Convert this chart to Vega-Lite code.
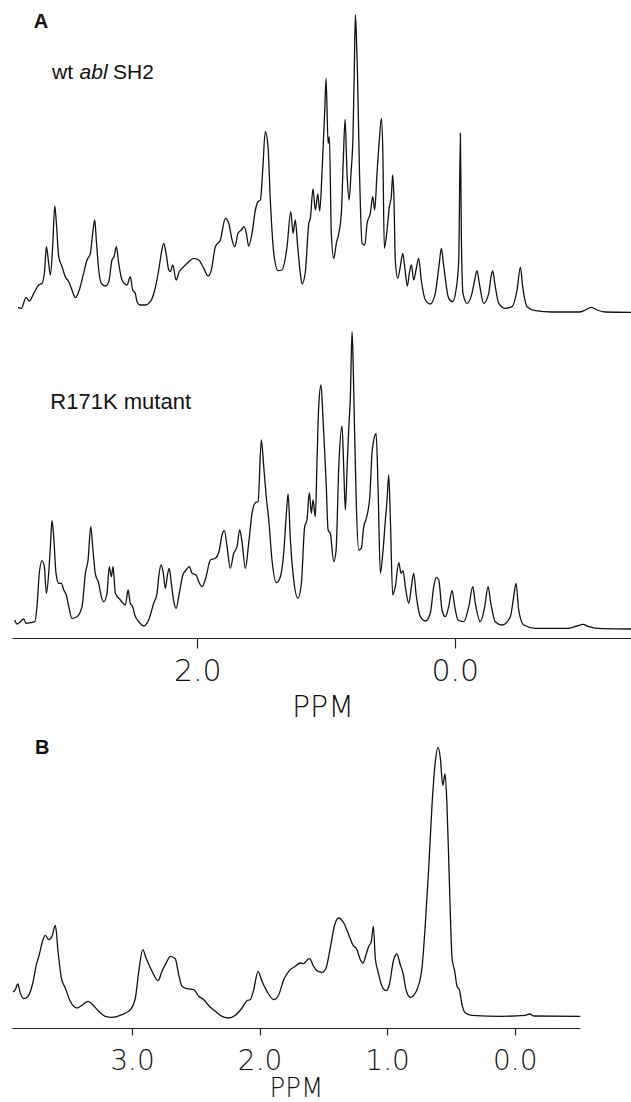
{
  "$schema": "https://vega.github.io/schema/vega-lite/v6.json",
  "padding": {"top": 10, "left": 10, "right": 0, "bottom": 0},
  "background": "white",
  "config": {"view": {"stroke": null}},
  "datasets": {
    "wt": [
      {"ppm":3.393,"int":4.7},{"ppm":3.368,"int":3.7},{"ppm":3.331,"int":14.3},{"ppm":3.305,"int":11},{"ppm":3.271,"int":18.7},{"ppm":3.232,"int":27},{"ppm":3.207,"int":28.7},{"ppm":3.186,"int":42},{"ppm":3.173,"int":65.3},{"ppm":3.155,"int":48.7},{"ppm":3.142,"int":37},{"ppm":3.124,"int":65.3},{"ppm":3.108,"int":106},{"ppm":3.096,"int":90.3},{"ppm":3.077,"int":55.3},{"ppm":3.051,"int":45.3},{"ppm":3.026,"int":35.3},{"ppm":2.999,"int":30.3},{"ppm":2.974,"int":22},{"ppm":2.948,"int":14.3},{"ppm":2.917,"int":22},{"ppm":2.890,"int":35.3},{"ppm":2.857,"int":52},{"ppm":2.831,"int":58.7},{"ppm":2.813,"int":78.7},{"ppm":2.797,"int":92},{"ppm":2.785,"int":72},{"ppm":2.766,"int":42},{"ppm":2.746,"int":28.7},{"ppm":2.715,"int":26},{"ppm":2.688,"int":30.3},{"ppm":2.663,"int":52},{"ppm":2.647,"int":55.3},{"ppm":2.629,"int":65.3},{"ppm":2.611,"int":48.7},{"ppm":2.585,"int":32},{"ppm":2.546,"int":27},{"ppm":2.521,"int":35.3},{"ppm":2.502,"int":22},{"ppm":2.482,"int":18.7},{"ppm":2.469,"int":10.3},{"ppm":2.443,"int":7},{"ppm":2.404,"int":7},{"ppm":2.365,"int":10.3},{"ppm":2.331,"int":22},{"ppm":2.300,"int":42},{"ppm":2.280,"int":58.7},{"ppm":2.261,"int":68.7},{"ppm":2.243,"int":58.7},{"ppm":2.222,"int":42},{"ppm":2.210,"int":40.3},{"ppm":2.191,"int":47},{"ppm":2.165,"int":32},{"ppm":2.140,"int":40.3},{"ppm":2.106,"int":45.3},{"ppm":2.067,"int":50.3},{"ppm":2.028,"int":53.7},{"ppm":1.989,"int":52},{"ppm":1.950,"int":43.7},{"ppm":1.917,"int":36},{"ppm":1.891,"int":42},{"ppm":1.860,"int":65.3},{"ppm":1.821,"int":72},{"ppm":1.782,"int":93.7},{"ppm":1.756,"int":88.7},{"ppm":1.730,"int":72},{"ppm":1.709,"int":65.3},{"ppm":1.684,"int":78.7},{"ppm":1.658,"int":82},{"ppm":1.637,"int":85.3},{"ppm":1.619,"int":78.7},{"ppm":1.601,"int":66},{"ppm":1.575,"int":78.7},{"ppm":1.549,"int":102},{"ppm":1.528,"int":110.3},{"ppm":1.510,"int":112},{"ppm":1.492,"int":142},{"ppm":1.472,"int":180.3},{"ppm":1.451,"int":165.3},{"ppm":1.433,"int":112},{"ppm":1.406,"int":58.7},{"ppm":1.373,"int":41.3},{"ppm":1.342,"int":42},{"ppm":1.303,"int":65.3},{"ppm":1.274,"int":100.3},{"ppm":1.256,"int":78.7},{"ppm":1.239,"int":92},{"ppm":1.220,"int":65.3},{"ppm":1.200,"int":38.7},{"ppm":1.186,"int":28},{"ppm":1.161,"int":40},{"ppm":1.134,"int":88.7},{"ppm":1.122,"int":93.7},{"ppm":1.101,"int":123},{"ppm":1.083,"int":102},{"ppm":1.064,"int":118},{"ppm":1.049,"int":101},{"ppm":1.031,"int":140},{"ppm":1.010,"int":202},{"ppm":1.000,"int":233.7},{"ppm":0.984,"int":168.7},{"ppm":0.974,"int":175.3},{"ppm":0.959,"int":78.7},{"ppm":0.940,"int":53.7},{"ppm":0.920,"int":68.7},{"ppm":0.901,"int":78.7},{"ppm":0.881,"int":98.7},{"ppm":0.866,"int":152},{"ppm":0.852,"int":192.7},{"ppm":0.837,"int":138.7},{"ppm":0.821,"int":112},{"ppm":0.806,"int":138.7},{"ppm":0.790,"int":178.7},{"ppm":0.780,"int":245.3},{"ppm":0.772,"int":297},{"ppm":0.765,"int":278.7},{"ppm":0.757,"int":245.3},{"ppm":0.741,"int":145.3},{"ppm":0.720,"int":68.7},{"ppm":0.699,"int":67},{"ppm":0.681,"int":88.7},{"ppm":0.656,"int":98.7},{"ppm":0.637,"int":115.3},{"ppm":0.622,"int":102},{"ppm":0.604,"int":138.7},{"ppm":0.586,"int":172},{"ppm":0.570,"int":193.7},{"ppm":0.559,"int":162},{"ppm":0.547,"int":63.7},{"ppm":0.526,"int":82},{"ppm":0.508,"int":105.3},{"ppm":0.493,"int":115.3},{"ppm":0.482,"int":137},{"ppm":0.472,"int":112},{"ppm":0.462,"int":52},{"ppm":0.443,"int":33.7},{"ppm":0.423,"int":45.3},{"ppm":0.404,"int":58.7},{"ppm":0.389,"int":45.3},{"ppm":0.368,"int":26},{"ppm":0.353,"int":38.7},{"ppm":0.337,"int":47},{"ppm":0.319,"int":32},{"ppm":0.301,"int":42},{"ppm":0.280,"int":53.7},{"ppm":0.260,"int":32},{"ppm":0.228,"int":12},{"ppm":0.190,"int":8},{"ppm":0.151,"int":18.7},{"ppm":0.120,"int":48.7},{"ppm":0.104,"int":63.7},{"ppm":0.085,"int":45.3},{"ppm":0.047,"int":13.7},{"ppm":0.016,"int":10.3},{"ppm":-0.010,"int":22},{"ppm":-0.031,"int":52},{"ppm":-0.044,"int":178.7},{"ppm":-0.051,"int":78.7},{"ppm":-0.064,"int":18.7},{"ppm":-0.096,"int":8.7},{"ppm":-0.134,"int":18.7},{"ppm":-0.155,"int":32},{"ppm":-0.173,"int":41.3},{"ppm":-0.191,"int":28.7},{"ppm":-0.225,"int":8.7},{"ppm":-0.264,"int":18.7},{"ppm":-0.282,"int":35.3},{"ppm":-0.295,"int":41},{"ppm":-0.311,"int":28.7},{"ppm":-0.342,"int":8.7},{"ppm":-0.393,"int":3.7},{"ppm":-0.445,"int":5.3},{"ppm":-0.484,"int":22},{"ppm":-0.510,"int":44.7},{"ppm":-0.528,"int":25.3},{"ppm":-0.562,"int":5.3},{"ppm":-0.626,"int":1.3},{"ppm":-0.756,"int":0},{"ppm":-0.963,"int":0},{"ppm":-1.015,"int":2},{"ppm":-1.061,"int":4.7},{"ppm":-1.106,"int":2},{"ppm":-1.170,"int":0},{"ppm":-1.378,"int":-0.3}
    ],
    "mut": [
      {"ppm":3.419,"int":8},{"ppm":3.401,"int":4},{"ppm":3.375,"int":6.3},{"ppm":3.349,"int":9},{"ppm":3.331,"int":4.7},{"ppm":3.298,"int":5.3},{"ppm":3.263,"int":6.3},{"ppm":3.246,"int":21.3},{"ppm":3.228,"int":54.7},{"ppm":3.207,"int":67.3},{"ppm":3.189,"int":61.3},{"ppm":3.173,"int":34.7},{"ppm":3.155,"int":54.7},{"ppm":3.142,"int":81.3},{"ppm":3.129,"int":107.3},{"ppm":3.116,"int":91.3},{"ppm":3.098,"int":54.7},{"ppm":3.077,"int":44.7},{"ppm":3.057,"int":44.7},{"ppm":3.038,"int":38},{"ppm":3.018,"int":33},{"ppm":2.999,"int":21.3},{"ppm":2.974,"int":9.7},{"ppm":2.935,"int":11.3},{"ppm":2.896,"int":21.3},{"ppm":2.870,"int":54.7},{"ppm":2.849,"int":68},{"ppm":2.828,"int":101.3},{"ppm":2.813,"int":81.3},{"ppm":2.793,"int":54.7},{"ppm":2.766,"int":44.7},{"ppm":2.746,"int":31.3},{"ppm":2.727,"int":26.3},{"ppm":2.702,"int":34.7},{"ppm":2.684,"int":61.3},{"ppm":2.668,"int":51.3},{"ppm":2.655,"int":61.3},{"ppm":2.637,"int":34.7},{"ppm":2.598,"int":28},{"ppm":2.559,"int":23},{"ppm":2.538,"int":38},{"ppm":2.521,"int":24.7},{"ppm":2.502,"int":21.3},{"ppm":2.486,"int":13},{"ppm":2.455,"int":6.3},{"ppm":2.416,"int":2},{"ppm":2.378,"int":8},{"ppm":2.339,"int":24.7},{"ppm":2.313,"int":34.7},{"ppm":2.300,"int":51.3},{"ppm":2.282,"int":63},{"ppm":2.264,"int":54.7},{"ppm":2.249,"int":39.7},{"ppm":2.230,"int":54.7},{"ppm":2.218,"int":59.7},{"ppm":2.202,"int":44.7},{"ppm":2.183,"int":26.3},{"ppm":2.165,"int":19.7},{"ppm":2.140,"int":34.7},{"ppm":2.113,"int":53},{"ppm":2.088,"int":58},{"ppm":2.062,"int":61.3},{"ppm":2.041,"int":54.7},{"ppm":2.010,"int":53},{"ppm":1.989,"int":46.3},{"ppm":1.963,"int":41.3},{"ppm":1.932,"int":51.3},{"ppm":1.899,"int":68},{"ppm":1.860,"int":69.7},{"ppm":1.829,"int":78},{"ppm":1.808,"int":93},{"ppm":1.790,"int":97.3},{"ppm":1.769,"int":81.3},{"ppm":1.744,"int":59.7},{"ppm":1.717,"int":74.7},{"ppm":1.692,"int":81.3},{"ppm":1.671,"int":98},{"ppm":1.653,"int":86.3},{"ppm":1.627,"int":59.7},{"ppm":1.601,"int":84.7},{"ppm":1.575,"int":114.7},{"ppm":1.549,"int":125.3},{"ppm":1.528,"int":126.3},{"ppm":1.503,"int":188},{"ppm":1.484,"int":161.3},{"ppm":1.466,"int":133},{"ppm":1.445,"int":108},{"ppm":1.420,"int":68},{"ppm":1.386,"int":45.3},{"ppm":1.355,"int":51.3},{"ppm":1.329,"int":74.7},{"ppm":1.308,"int":114.7},{"ppm":1.295,"int":134},{"ppm":1.277,"int":88},{"ppm":1.251,"int":48},{"ppm":1.218,"int":29.7},{"ppm":1.192,"int":44},{"ppm":1.166,"int":101.3},{"ppm":1.148,"int":108},{"ppm":1.130,"int":135.3},{"ppm":1.114,"int":114.7},{"ppm":1.101,"int":128},{"ppm":1.083,"int":111.3},{"ppm":1.070,"int":168},{"ppm":1.057,"int":221.3},{"ppm":1.039,"int":243},{"ppm":1.023,"int":208},{"ppm":1.010,"int":174.7},{"ppm":0.998,"int":141.3},{"ppm":0.984,"int":98},{"ppm":0.967,"int":94.7},{"ppm":0.940,"int":66.3},{"ppm":0.922,"int":78},{"ppm":0.901,"int":161.3},{"ppm":0.876,"int":202},{"ppm":0.862,"int":158},{"ppm":0.850,"int":118},{"ppm":0.835,"int":164.7},{"ppm":0.824,"int":198},{"ppm":0.811,"int":231.3},{"ppm":0.798,"int":296.3},{"ppm":0.790,"int":268},{"ppm":0.780,"int":208},{"ppm":0.765,"int":124.7},{"ppm":0.746,"int":78},{"ppm":0.726,"int":79.7},{"ppm":0.707,"int":101.3},{"ppm":0.687,"int":109.7},{"ppm":0.660,"int":131.3},{"ppm":0.643,"int":174.7},{"ppm":0.629,"int":188},{"ppm":0.611,"int":194.7},{"ppm":0.596,"int":141.3},{"ppm":0.578,"int":54.7},{"ppm":0.559,"int":74.7},{"ppm":0.539,"int":108},{"ppm":0.526,"int":128},{"ppm":0.513,"int":153},{"ppm":0.500,"int":108},{"ppm":0.482,"int":33},{"ppm":0.462,"int":41.3},{"ppm":0.435,"int":65.3},{"ppm":0.417,"int":54.7},{"ppm":0.402,"int":57.3},{"ppm":0.384,"int":41.3},{"ppm":0.357,"int":24.7},{"ppm":0.337,"int":41.3},{"ppm":0.319,"int":54.7},{"ppm":0.298,"int":31.3},{"ppm":0.267,"int":11.3},{"ppm":0.228,"int":7},{"ppm":0.190,"int":14.7},{"ppm":0.163,"int":41.3},{"ppm":0.143,"int":50.7},{"ppm":0.124,"int":48},{"ppm":0.099,"int":18},{"ppm":0.073,"int":11.3},{"ppm":0.047,"int":21.3},{"ppm":0.021,"int":37.3},{"ppm":0.000,"int":21.3},{"ppm":-0.026,"int":8},{"ppm":-0.070,"int":6.3},{"ppm":-0.109,"int":21.3},{"ppm":-0.140,"int":41.3},{"ppm":-0.160,"int":24.7},{"ppm":-0.199,"int":6.3},{"ppm":-0.233,"int":21.3},{"ppm":-0.259,"int":41.3},{"ppm":-0.280,"int":24.7},{"ppm":-0.315,"int":6.3},{"ppm":-0.368,"int":3},{"ppm":-0.432,"int":11.3},{"ppm":-0.458,"int":31.3},{"ppm":-0.476,"int":44.7},{"ppm":-0.497,"int":18},{"ppm":-0.536,"int":3},{"ppm":-0.626,"int":-0.3},{"ppm":-0.886,"int":-0.3},{"ppm":-0.950,"int":2},{"ppm":-0.997,"int":3.7},{"ppm":-1.041,"int":1.3},{"ppm":-1.145,"int":-0.7},{"ppm":-1.378,"int":-1}
    ],
    "b": [
      {"ppm":3.935,"int":26},{"ppm":3.915,"int":28.3},{"ppm":3.896,"int":34},{"ppm":3.876,"int":25},{"ppm":3.849,"int":19.3},{"ppm":3.815,"int":21.7},{"ppm":3.778,"int":35},{"ppm":3.750,"int":53.3},{"ppm":3.727,"int":63.3},{"ppm":3.706,"int":75},{"ppm":3.680,"int":82.7},{"ppm":3.653,"int":78.3},{"ppm":3.627,"int":81.7},{"ppm":3.601,"int":92.7},{"ppm":3.580,"int":66.7},{"ppm":3.554,"int":40},{"ppm":3.523,"int":30},{"ppm":3.484,"int":16.7},{"ppm":3.431,"int":10},{"ppm":3.392,"int":12.7},{"ppm":3.345,"int":16.7},{"ppm":3.314,"int":14},{"ppm":3.261,"int":6.7},{"ppm":3.209,"int":1.7},{"ppm":3.157,"int":0.7},{"ppm":3.078,"int":3.3},{"ppm":3.013,"int":8.3},{"ppm":2.974,"int":20},{"ppm":2.947,"int":46.7},{"ppm":2.916,"int":68.3},{"ppm":2.890,"int":60},{"ppm":2.843,"int":46.7},{"ppm":2.796,"int":37.3},{"ppm":2.765,"int":46.7},{"ppm":2.726,"int":56.7},{"ppm":2.700,"int":61.7},{"ppm":2.661,"int":59.3},{"ppm":2.634,"int":43.3},{"ppm":2.608,"int":31.7},{"ppm":2.569,"int":29.3},{"ppm":2.516,"int":28.3},{"ppm":2.477,"int":21.7},{"ppm":2.438,"int":18.3},{"ppm":2.394,"int":11.7},{"ppm":2.347,"int":6.7},{"ppm":2.294,"int":1.7},{"ppm":2.242,"int":0},{"ppm":2.190,"int":2.7},{"ppm":2.138,"int":10},{"ppm":2.099,"int":17.3},{"ppm":2.073,"int":18.3},{"ppm":2.046,"int":28.3},{"ppm":2.012,"int":46.7},{"ppm":1.981,"int":36.7},{"ppm":1.942,"int":26.7},{"ppm":1.889,"int":18.3},{"ppm":1.850,"int":23.3},{"ppm":1.811,"int":38.3},{"ppm":1.772,"int":46.7},{"ppm":1.720,"int":51.7},{"ppm":1.681,"int":55},{"ppm":1.654,"int":54.3},{"ppm":1.641,"int":56},{"ppm":1.609,"int":59.3},{"ppm":1.576,"int":51.7},{"ppm":1.550,"int":47.3},{"ppm":1.511,"int":45.7},{"ppm":1.479,"int":50},{"ppm":1.446,"int":70},{"ppm":1.411,"int":93.3},{"ppm":1.380,"int":100},{"ppm":1.340,"int":95},{"ppm":1.301,"int":83.3},{"ppm":1.270,"int":73.3},{"ppm":1.236,"int":68.3},{"ppm":1.210,"int":58.3},{"ppm":1.189,"int":55},{"ppm":1.166,"int":63.3},{"ppm":1.144,"int":71.7},{"ppm":1.124,"int":76.7},{"ppm":1.108,"int":91.7},{"ppm":1.093,"int":60},{"ppm":1.072,"int":46.7},{"ppm":1.040,"int":31.7},{"ppm":1.009,"int":27.3},{"ppm":0.983,"int":33.3},{"ppm":0.949,"int":58.3},{"ppm":0.923,"int":64},{"ppm":0.897,"int":53.3},{"ppm":0.876,"int":45},{"ppm":0.852,"int":28.3},{"ppm":0.818,"int":20.7},{"ppm":0.766,"int":28.3},{"ppm":0.727,"int":50},{"ppm":0.701,"int":93.3},{"ppm":0.674,"int":150},{"ppm":0.648,"int":213.3},{"ppm":0.622,"int":256.7},{"ppm":0.601,"int":270.7},{"ppm":0.583,"int":260},{"ppm":0.564,"int":232.7},{"ppm":0.546,"int":244},{"ppm":0.531,"int":213.3},{"ppm":0.513,"int":140},{"ppm":0.491,"int":60},{"ppm":0.470,"int":46.7},{"ppm":0.452,"int":31.7},{"ppm":0.434,"int":28.3},{"ppm":0.413,"int":13.3},{"ppm":0.387,"int":5},{"ppm":0.335,"int":2.7},{"ppm":0.100,"int":1.7},{"ppm":-0.083,"int":2.7},{"ppm":-0.118,"int":4},{"ppm":-0.149,"int":2},{"ppm":-0.514,"int":1.7}
    ]
  },
  "vconcat": [
    {
      "spacing": 2,
      "vconcat": [
        {
          "width": 621,
          "height": 310,
          "layer": [
            {
              "data": {"name": "wt"},
              "mark": {"type": "line", "color": "#111", "strokeWidth": 1.3, "interpolate": "monotone"},
              "encoding": {
                "x": {"field": "ppm", "type": "quantitative", "scale": {"domain": [-1.385, 3.44], "reverse": true, "nice": false, "zero": false}, "axis": null},
                "y": {"field": "int", "type": "quantitative", "scale": {"domain": [-8, 302], "nice": false, "zero": false}, "axis": null}
              }
            },
            {
              "data": {"values": [{"label": "A"}]},
              "mark": {"type": "text", "align": "left", "baseline": "alphabetic", "font": "Liberation Sans", "fontSize": 20, "fontWeight": "bold", "color": "#111"},
              "encoding": {"x": {"datum": 3.271}, "y": {"datum": 283.7}, "text": {"field": "label"}}
            },
            {
              "data": {"values": [{"label": "wt"}]},
              "mark": {"type": "text", "align": "left", "baseline": "alphabetic", "font": "Liberation Sans", "fontSize": 21, "color": "#111"},
              "encoding": {"x": {"datum": 3.129}, "y": {"datum": 233}, "text": {"field": "label"}}
            },
            {
              "data": {"values": [{"label": "abl"}]},
              "mark": {"type": "text", "align": "left", "baseline": "alphabetic", "font": "Liberation Sans", "fontSize": 21, "fontStyle": "italic", "color": "#111"},
              "encoding": {"x": {"datum": 2.915}, "y": {"datum": 233}, "text": {"field": "label"}}
            },
            {
              "data": {"values": [{"label": "SH2"}]},
              "mark": {"type": "text", "align": "left", "baseline": "alphabetic", "font": "Liberation Sans", "fontSize": 21, "color": "#111"},
              "encoding": {"x": {"datum": 2.655}, "y": {"datum": 233}, "text": {"field": "label"}}
            }
          ]
        },
        {
          "width": 621,
          "height": 316,
          "layer": [
            {
              "data": {"name": "mut"},
              "mark": {"type": "line", "color": "#111", "strokeWidth": 1.3, "interpolate": "monotone"},
              "encoding": {
                "x": {"field": "ppm", "type": "quantitative", "scale": {"domain": [-1.385, 3.44], "reverse": true, "nice": false, "zero": false},
                  "axis": {"values": [2, 0], "format": ".1f", "title": "PPM", "grid": false, "domainColor": "#222", "domainWidth": 1.2, "tickColor": "#222", "tickSize": 10, "tickWidth": 1.2, "labelFont": "DejaVu Sans", "labelFontWeight": 200, "labelFontSize": 30, "labelColor": "#111", "labelPadding": 8, "labelDx": 8, "titleFont": "DejaVu Sans", "titleFontWeight": 200, "titleFontSize": 30, "titleColor": "#111", "titlePadding": 6}},
                "y": {"field": "int", "type": "quantitative", "scale": {"domain": [-10, 306], "nice": false, "zero": false}, "axis": null}
              }
            },
            {
              "data": {"values": [{"label": "R171K mutant"}]},
              "mark": {"type": "text", "align": "left", "baseline": "alphabetic", "font": "Liberation Sans", "fontSize": 22, "color": "#111"},
              "encoding": {"x": {"datum": 3.142}, "y": {"datum": 218.7}, "text": {"field": "label"}}
            }
          ]
        }
      ]
    },
    {
      "width": 568,
      "height": 290,
      "layer": [
        {
          "data": {"name": "b"},
          "mark": {"type": "line", "color": "#111", "strokeWidth": 1.3, "interpolate": "monotone"},
          "encoding": {
            "x": {"field": "ppm", "type": "quantitative", "scale": {"domain": [-0.512, 3.941], "reverse": true, "nice": false, "zero": false},
              "axis": {"values": [3, 2, 1, 0], "format": ".1f", "title": "PPM", "grid": false, "domainColor": "#222", "domainWidth": 1.2, "tickColor": "#222", "tickSize": 7, "tickWidth": 1.2, "labelFont": "DejaVu Sans", "labelFontWeight": 200, "labelFontSize": 28, "labelColor": "#111", "labelPadding": 12, "labelDx": 8, "titleFont": "DejaVu Sans", "titleFontWeight": 200, "titleFontSize": 26, "titleColor": "#111", "titlePadding": 0}},
            "y": {"field": "int", "type": "quantitative", "scale": {"domain": [-10, 280], "nice": false, "zero": false}, "axis": null}
          }
        },
        {
          "data": {"values": [{"label": "B"}]},
          "mark": {"type": "text", "align": "left", "baseline": "alphabetic", "font": "Liberation Sans", "fontSize": 20, "fontWeight": "bold", "color": "#111"},
          "encoding": {"x": {"datum": 3.76}, "y": {"datum": 264}, "text": {"field": "label"}}
        }
      ]
    }
  ],
  "spacing": 16
}
